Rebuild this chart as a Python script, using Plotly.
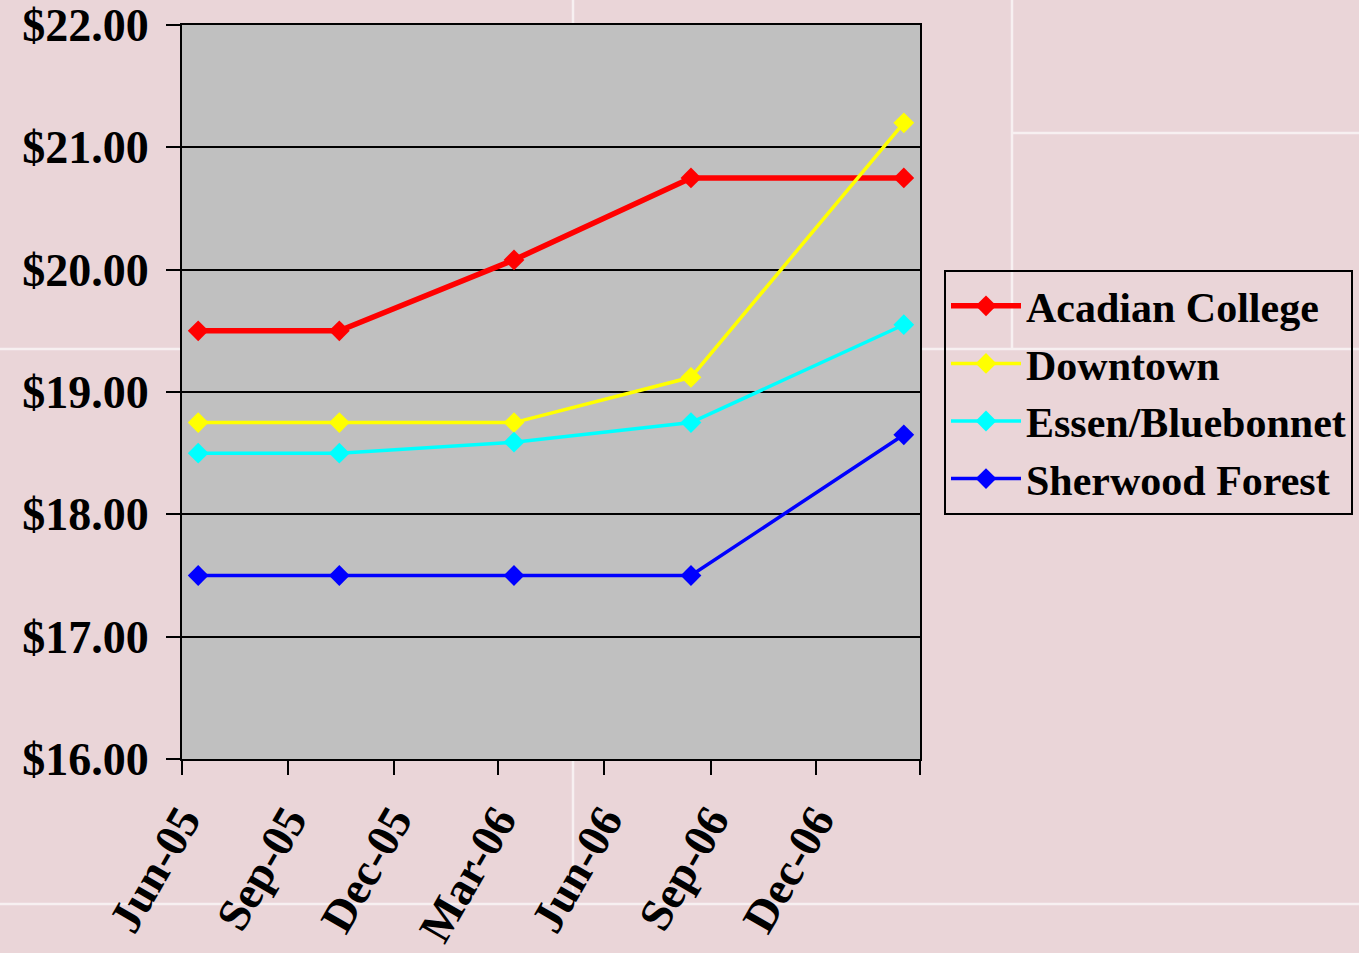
import plotly.graph_objects as go

# Survey dates and hourly rates by campus
dates = ["2005-06-15", "2005-10-15", "2006-03-15", "2006-08-15", "2007-02-15"]
acadian_college = [19.50, 19.50, 20.08, 20.75, 20.75]
downtown = [18.75, 18.75, 18.75, 19.12, 21.20]
essen_bluebonnet = [18.50, 18.50, 18.59, 18.75, 19.55]
sherwood_forest = [17.50, 17.50, 17.50, 17.50, 18.65]

series_names = ["Acadian College", "Downtown", "Essen/Bluebonnet", "Sherwood Forest"]
series_values = [acadian_college, downtown, essen_bluebonnet, sherwood_forest]
series_colors = ["#FF0000", "#FFFF00", "#00FFFF", "#0000FF"]
series_widths = [5.5, 3.5, 3.5, 3.5]

tick_dates = ["2005-06-01", "2005-09-01", "2005-12-01", "2006-03-01",
              "2006-06-01", "2006-09-01", "2006-12-01", "2007-03-01"]
tick_labels = ["Jun-05", "Sep-05", "Dec-05", "Mar-06",
               "Jun-06", "Sep-06", "Dec-06", ""]

W, H = 1359, 953
L, R, T, B = 182, 920, 25, 759  # plot area in pixels

FONT = "Liberation Serif, Times New Roman, serif"


def px_x(px):
    return (px - L) / (R - L)


def px_y(py):
    return (B - py) / (B - T)


fig = go.Figure()
for name, vals, col, w in zip(series_names, series_values, series_colors, series_widths):
    fig.add_trace(go.Scatter(
        x=dates, y=vals, name=name, mode="lines+markers",
        line=dict(color=col, width=w),
        marker=dict(symbol="diamond", size=16, color=col, line=dict(width=0)),
    ))

# faint white table rules on the slide background
rule = dict(color="#F7F0F1", width=2.5)
segments = [
    (573, 0, 573, 904),
    (1012, 0, 1012, 349),
    (1012, 133, W, 133),
    (0, 349, W, 349),
    (0, 904, W, 904),
]
shapes = []
for x0, y0, x1, y1 in segments:
    shapes.append(dict(type="line", xref="paper", yref="paper",
                       x0=px_x(x0), y0=px_y(y0), x1=px_x(x1), y1=px_y(y1),
                       line=rule, layer="below"))
# grey plot panel over the rules
shapes.append(dict(type="rect", xref="x domain", yref="y domain",
                   x0=0, y0=0, x1=1, y1=1, fillcolor="#C0C0C0",
                   line=dict(width=0), layer="below"))

fig.update_layout(
    width=W, height=H,
    margin=dict(l=L, r=W - R, t=T, b=H - B, pad=0, autoexpand=False),
    paper_bgcolor="#EAD5D8",
    plot_bgcolor="#C0C0C0",
    shapes=shapes,
    showlegend=True,
    legend=dict(
        x=px_x(944), y=px_y(270), xanchor="left", yanchor="top",
        bgcolor="rgba(0,0,0,0)", bordercolor="#000000", borderwidth=2,
        font=dict(family=FONT, size=42, color="#000000", weight="bold"),
        itemwidth=70, tracegroupgap=0,
    ),
    xaxis=dict(
        type="date", range=["2005-06-01", "2007-03-01"], automargin=False,
        tickmode="array", tickvals=tick_dates, ticktext=tick_labels,
        tickangle=-60, ticks="outside", ticklen=14, tickwidth=2, tickcolor="#000000",
        showline=True, linecolor="#000000", linewidth=2, mirror=True,
        showgrid=False, zeroline=False,
        tickfont=dict(family=FONT, size=46, color="#000000", weight="bold"),
    ),
    yaxis=dict(
        range=[16, 22], dtick=1, tick0=16, automargin=False,
        tickprefix="$", tickformat=".2f", ticklabelstandoff=8,
        ticks="outside", ticklen=14, tickwidth=2, tickcolor="#000000",
        showline=True, linecolor="#000000", linewidth=2, mirror=True,
        showgrid=True, gridcolor="#000000", gridwidth=2, zeroline=False,
        tickfont=dict(family=FONT, size=46, color="#000000", weight="bold"),
    ),
)

fig.write_html("out.html")
